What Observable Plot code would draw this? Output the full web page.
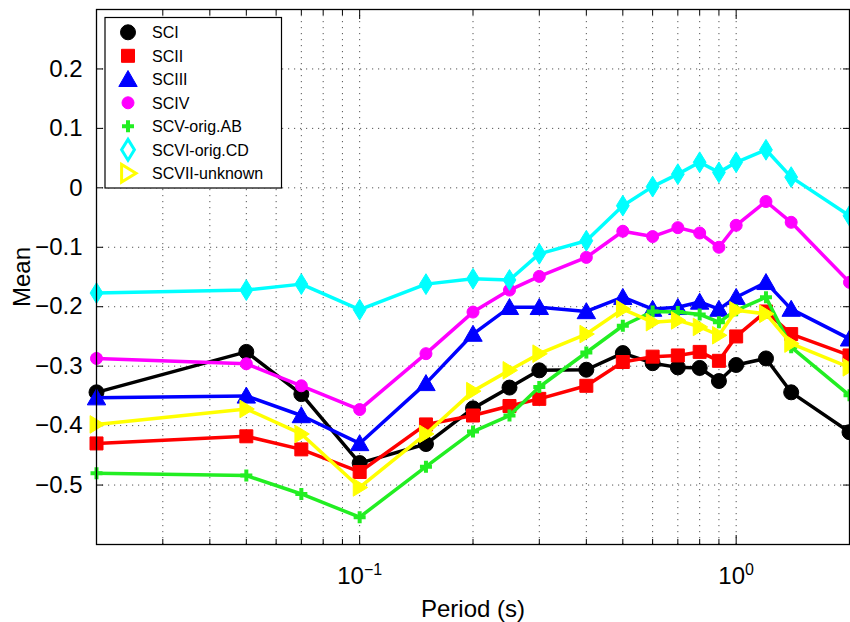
<!DOCTYPE html>
<html>
<head>
<meta charset="utf-8">
<script src="https://cdn.jsdelivr.net/npm/d3@7"></script>
<script src="https://cdn.jsdelivr.net/npm/@observablehq/plot@0.6"></script>
<style>
  html, body { margin: 0; padding: 0; background: #fff; }
  #chart { position: relative; width: 850px; height: 622px; }
  svg { font-family: "Liberation Sans", Arial, Helvetica, sans-serif; }
</style>
</head>
<body>
<div id="chart"></div>
<script>
// ---- data ----
const periods = [0.02, 0.05, 0.07, 0.1, 0.15, 0.2, 0.25, 0.3, 0.4, 0.5, 0.6, 0.7, 0.8, 0.9, 1.0, 1.2, 1.4, 2.0];
const seriesNames = ["SCI", "SCII", "SCIII", "SCIV", "SCV-orig.AB", "SCVI-orig.CD", "SCVII-unknown"];
const sci   = [-0.344, -0.276, -0.347, -0.463, -0.431, -0.371, -0.336, -0.307, -0.306, -0.278, -0.295, -0.302, -0.303, -0.325, -0.298, -0.287, -0.344, -0.411];
const scii  = [-0.430, -0.418, -0.440, -0.478, -0.398, -0.383, -0.367, -0.355, -0.333, -0.293, -0.284, -0.282, -0.276, -0.291, -0.250, -0.208, -0.246, -0.282];
const sciii = [-0.353, -0.350, -0.383, -0.430, -0.329, -0.246, -0.201, -0.201, -0.208, -0.184, -0.204, -0.201, -0.192, -0.204, -0.184, -0.159, -0.204, -0.254];
const sciv  = [-0.287, -0.296, -0.333, -0.373, -0.279, -0.209, -0.172, -0.149, -0.117, -0.073, -0.082, -0.067, -0.076, -0.100, -0.063, -0.023, -0.058, -0.159];
const scv   = [-0.480, -0.484, -0.515, -0.554, -0.469, -0.410, -0.383, -0.335, -0.277, -0.232, -0.208, -0.209, -0.213, -0.226, -0.206, -0.184, -0.268, -0.349];
const scvi  = [-0.177, -0.172, -0.162, -0.205, -0.162, -0.153, -0.155, -0.111, -0.089, -0.030, 0.002, 0.023, 0.043, 0.026, 0.043, 0.064, 0.018, -0.047];
const scvii = [-0.398, -0.372, -0.414, -0.504, -0.414, -0.342, -0.307, -0.279, -0.246, -0.204, -0.226, -0.223, -0.234, -0.248, -0.206, -0.212, -0.262, -0.302];
const seriesColors = ["#000000", "#ff0000", "#0000ff", "#ff00ff", "#22ee22", "#00ffff", "#ffff00"];
const yTicks = [-0.5, -0.4, -0.3, -0.2, -0.1, 0, 0.1, 0.2];
const xMajor = [0.1, 1];
const xMinor = [0.03, 0.04, 0.05, 0.06, 0.07, 0.08, 0.09, 0.2, 0.3, 0.4, 0.5, 0.6, 0.7, 0.8, 0.9];

const allValues = [sci, scii, sciii, sciv, scv, scvi, scvii];

// ---- marker shapes ----
const sym = f => ({draw(c, size) { const r = Math.sqrt(size / Math.PI); f(c, r); }});
const symCircle = sym((c, r) => { c.moveTo(r, 0); c.arc(0, 0, r, 0, 2 * Math.PI); });
const symSquare = sym((c, r) => { c.rect(-r, -r, 2 * r, 2 * r); });
const symTriUp = sym((c, r) => { c.moveTo(0, -r * 1.1); c.lineTo(r * 1.15, r * 0.9); c.lineTo(-r * 1.15, r * 0.9); c.closePath(); });
const symPlus = sym((c, r) => { c.moveTo(-r, 0); c.lineTo(r, 0); c.moveTo(0, -r); c.lineTo(0, r); });
const symDiamond = sym((c, r) => { c.moveTo(0, -r * 1.3); c.lineTo(r * 0.8, 0); c.lineTo(0, r * 1.3); c.lineTo(-r * 0.8, 0); c.closePath(); });
const symTriRight = sym((c, r) => { c.moveTo(r * 1.0, 0); c.lineTo(-r * 0.8, -r * 1.1); c.lineTo(-r * 0.8, r * 1.1); c.closePath(); });

const markerStyle = [
  {symbol: symCircle, r: 7.5, fill: true, sw: 1},
  {symbol: symSquare, r: 6.5, fill: true, sw: 1},
  {symbol: symTriUp, r: 8, fill: true, sw: 1},
  {symbol: symCircle, r: 6, fill: true, sw: 1},
  {symbol: symPlus, r: 6, fill: false, sw: 4},
  {symbol: symDiamond, r: 8, fill: true, sw: 1},
  {symbol: symTriRight, r: 8, fill: true, sw: 1}
];

const seriesRows = allValues.map((vals, i) => periods.map((p, j) => ({period: p, value: vals[j], series: seriesNames[i]})));

const seriesMarks = seriesRows.flatMap((rows, i) => {
  const m = markerStyle[i];
  return [
    Plot.line(rows, {x: "period", y: "value", stroke: seriesColors[i], strokeWidth: 3.5}),
    Plot.dot(rows, {x: "period", y: "value", symbol: m.symbol, r: m.r,
      fill: m.fill ? seriesColors[i] : "none", stroke: seriesColors[i], strokeWidth: m.sw})
  ];
});

const gridStyle = {stroke: "#555", strokeOpacity: 1, strokeWidth: 1, strokeDasharray: "1.2,4.8"};
const fmtY = d => d === 0 ? "0" : d3.format(".1f")(d);

const plot = Plot.plot({
  width: 850,
  height: 622,
  marginLeft: 96,
  marginRight: 1,
  marginTop: 9,
  marginBottom: 78,
  style: {fontFamily: "Liberation Sans, Arial, sans-serif", background: "#fff", color: "#000"},
  x: {type: "log", domain: [0.02, 2]},
  y: {domain: [-0.6, 0.3]},
  marks: [
    Plot.gridX(xMinor.concat(xMajor), gridStyle),
    Plot.gridY(yTicks, gridStyle),
    Plot.axisX(xMinor, {anchor: "bottom", tickSize: -5, tickFormat: () => "", label: null}),
    Plot.axisX(xMinor, {anchor: "top", tickSize: -5, tickFormat: () => "", label: null}),
    Plot.axisX(xMajor, {anchor: "bottom", tickSize: -9, tickFormat: () => "", label: null}),
    Plot.axisX(xMajor, {anchor: "top", tickSize: -9, tickFormat: () => "", label: null}),
    Plot.axisY(yTicks, {anchor: "left", tickSize: -7, tickFormat: () => "", label: null}),
    Plot.axisY(yTicks, {anchor: "right", tickSize: -7, tickFormat: () => "", label: null}),
    Plot.axisX(xMajor, {anchor: "bottom", tickSize: 0, tickPadding: 22, fontSize: 24,
      tickFormat: d => "10^" + Math.round(Math.log10(d)),
      label: "Period (s)", labelAnchor: "center", labelArrow: "none", labelOffset: 72}),
    Plot.axisY(yTicks, {anchor: "left", tickSize: 0, tickPadding: 14, fontSize: 24, tickFormat: fmtY,
      label: "Mean", labelAnchor: "center", labelArrow: "none", labelOffset: 84}),
    ...seriesMarks,
    Plot.frame({stroke: "#000", strokeWidth: 1.3})
  ]
});

document.getElementById("chart").appendChild(plot);

// superscript exponents on x tick labels
const svg = d3.select(plot);
svg.selectAll('g[aria-label="x-axis tick label"] text').each(function() {
  const t = d3.select(this);
  const s = t.text();
  if (s.startsWith("10^")) {
    const e = s.slice(3).replace("-", "\u2212");
    t.text("");
    t.append("tspan").text("10");
    t.append("tspan").attr("dy", "-0.55em").attr("font-size", "16px").text(e);
  }
});
svg.selectAll('g[aria-label="x-axis label"] text, g[aria-label="y-axis label"] text').attr("font-size", 24);

// legend inside plot (upper-left)
const lg = svg.append("g").attr("font-size", 16).attr("text-anchor", "start")
  .attr("font-family", "Liberation Sans, Arial, sans-serif");
lg.append("rect").attr("x", 105).attr("y", 17.5).attr("width", 176.5).attr("height", 170.5)
  .attr("fill", "#fff").attr("stroke", "#000").attr("stroke-width", 1.2);
seriesNames.forEach((name, i) => {
  const y = 32.3 + i * 23.5;
  const m = markerStyle[i];
  const hollowLegend = i >= 5;
  lg.append("path")
    .attr("transform", `translate(128,${y})`)
    .attr("d", d3.symbol().type(m.symbol).size(Math.PI * m.r * m.r)())
    .attr("fill", m.fill ? (hollowLegend ? "#fff" : seriesColors[i]) : "none")
    .attr("stroke", seriesColors[i])
    .attr("stroke-width", hollowLegend ? 3 : m.sw);
  lg.append("text").attr("x", 152).attr("y", y).attr("dy", "0.36em").attr("fill", "#000")
    .attr("text-anchor", "start").text(name);
});
</script>
</body>
</html>
